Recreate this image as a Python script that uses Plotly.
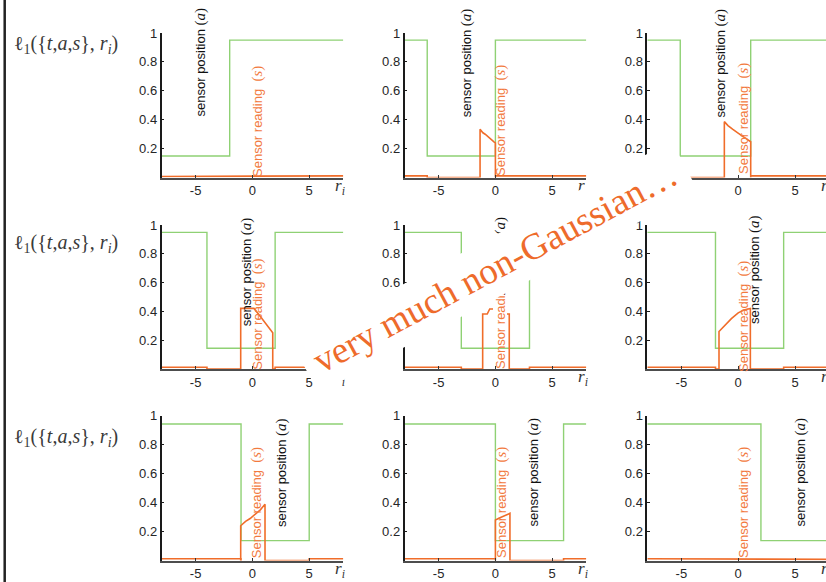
import plotly.graph_objects as go

W, H = 826, 582

# ---------------- data ----------------
r_ticks = [-5, 0, 5]
r_tick_text = ["-5", "0", "5"]
y_ticks = [0.2, 0.4, 0.6, 0.8, 1]
y_tick_text = ["0.2", "0.4", "0.6", "0.8", "1"]

# sensor position (a): low interval per panel (row-major order)
position_low_start = [-8, -6, -5.1, -4, -3, -2, -1, 0, 2]
position_low_end = [-2, 0, 1.1, 2, 3, 4, 5, 6, 8]
position_high = [0.951, 0.951, 0.951, 0.949, 0.949, 0.949, 0.943, 0.943, 0.943]
position_low = [0.149, 0.149, 0.149, 0.144, 0.144, 0.144, 0.137, 0.137, 0.137]

# sensor reading (s): floor levels and bump per panel
reading_floor = 0.012
reading_floor_in_low = [0.008, 0, 0, 0, 0, 0, 0, 0, 0.008]
reading_11_x, reading_11_y = [], []
reading_12_x = [-1.35, -1.1, -0.9, -0.7, -0.5, -0.3, -0.1, 0.0]
reading_12_y = [0.334, 0.31, 0.30, 0.285, 0.27, 0.258, 0.246, 0.24]
reading_13_x = [-1.22, -0.9, -0.5, -0.1, 0.3, 0.7, 1.1]
reading_13_y = [0.387, 0.36, 0.335, 0.31, 0.29, 0.27, 0.248]
reading_21_x = [-1.03, 0.14, 0.6, 1.2, 1.79]
reading_21_y = [0.421, 0.421, 0.375, 0.31, 0.252]
reading_22_x = [-1.12, -0.72, -0.5, 0.55, 0.8, 1.22]
reading_22_y = [0.382, 0.382, 0.417, 0.417, 0.382, 0.382]
reading_23_x = [-1.69, -1.2, -0.6, 0.0, 0.5, 1.07]
reading_23_y = [0.26, 0.30, 0.35, 0.39, 0.41, 0.42]
reading_31_x = [-1.03, -0.6, -0.2, 0.3, 0.7, 1.11]
reading_31_y = [0.24, 0.27, 0.29, 0.32, 0.35, 0.388]
reading_32_x = [0.0, 0.4, 0.9, 1.28]
reading_32_y = [0.28, 0.295, 0.31, 0.326]
reading_33_x, reading_33_y = [], []

reading_x = [reading_11_x, reading_12_x, reading_13_x, reading_21_x, reading_22_x,
             reading_23_x, reading_31_x, reading_32_x, reading_33_x]
reading_y = [reading_11_y, reading_12_y, reading_13_y, reading_21_y, reading_22_y,
             reading_23_y, reading_31_y, reading_32_y, reading_33_y]

# ---------------- layout geometry ----------------
col_left = [161.5, 404.5, 647.3]
panel_w = 181.8
row_top = [33, 225, 415.7]
row_bot = [177.6, 369, 560.5]
XMIN, XMAX = -8, 8
unit = panel_w / (XMAX - XMIN)


def px(x):
    return x / W


def py(y):
    return 1 - y / H


GREEN = "#8fd174"
ORANGE = "#f06d2a"
LABEL_ORANGE = "#f27a3e"
TICKFONT = dict(family="Liberation Sans, Arial, sans-serif", size=13, color="#262626")

fig = go.Figure()
layout = dict(
    width=W, height=H, margin=dict(l=0, r=0, t=0, b=0, pad=0, autoexpand=False),
    paper_bgcolor="white", plot_bgcolor="white", showlegend=False,
)

for i in range(9):
    r, c = divmod(i, 3)
    xa = "x" if i == 0 else f"x{i + 1}"
    ya = "y" if i == 0 else f"y{i + 1}"
    xkey = "xaxis" if i == 0 else f"xaxis{i + 1}"
    ykey = "yaxis" if i == 0 else f"yaxis{i + 1}"
    left = col_left[c]
    right = min(left + panel_w, W)
    xmax = XMIN + (right - left) / unit

    # sensor position step curve
    lo_s, lo_e = position_low_start[i], position_low_end[i]
    hi, lo = position_high[i], position_low[i]
    gx = [XMIN, lo_s, lo_e, XMAX]
    gy = [lo if lo_s <= XMIN else hi, lo, hi if lo_e < XMAX else lo, hi if lo_e < XMAX else lo]
    fig.add_trace(go.Scatter(x=gx, y=gy, mode="lines", line=dict(color=GREEN, width=1.4, shape="hv"),
                             xaxis=xa, yaxis=ya, hoverinfo="skip"))

    # sensor reading curve
    f_in = reading_floor_in_low[i]
    ox, oy = [], []
    if lo_s > XMIN:
        ox += [XMIN, lo_s]
        oy += [reading_floor, reading_floor]
    ox.append(lo_s)
    oy.append(f_in)
    bx, by = reading_x[i], reading_y[i]
    if bx:
        ox += [bx[0]] + bx + [bx[-1]]
        oy += [f_in] + by + [f_in]
    ox.append(lo_e)
    oy.append(f_in)
    if lo_e < XMAX:
        ox += [lo_e, XMAX]
        oy += [reading_floor, reading_floor]
    fig.add_trace(go.Scatter(x=ox, y=oy, mode="lines", line=dict(color=ORANGE, width=1.6),
                             xaxis=xa, yaxis=ya, hoverinfo="skip"))

    layout[xkey] = dict(
        domain=[px(left), px(right)], anchor=ya, range=[XMIN, xmax], automargin=False,
        showline=True, linecolor="#4d4d4d", linewidth=2, ticks="inside", ticklen=3,
        tickcolor="#333", tickmode="array", tickvals=r_ticks, ticktext=r_tick_text,
        tickfont=TICKFONT, showgrid=False, zeroline=False, fixedrange=True,
    )
    layout[ykey] = dict(
        domain=[py(row_bot[r]), py(row_top[r])], anchor=xa, range=[0, 1], automargin=False,
        showline=True, linecolor="#1a1a1a", linewidth=1.5, ticks="inside", ticklen=3,
        tickcolor="#1a1a1a", tickmode="array", tickvals=y_ticks, ticktext=y_tick_text,
        tickfont=TICKFONT, showgrid=False, zeroline=False, fixedrange=True,
    )

annotations = []

# row labels
for r in range(3):
    annotations.append(dict(
        text="\u2113<sub>1</sub>({<i>t</i>,<i>a</i>,<i>s</i>}, <i>r</i><sub><i>i</i></sub>)",
        x=px(12), y=py([45, 243, 437.7][r]), xref="paper", yref="paper",
        xanchor="left", yanchor="middle", showarrow=False,
        font=dict(family="Liberation Serif, Times New Roman, serif", size=20, color="#3a3a3a"),
    ))

# r_i axis labels
for i in range(9):
    r, c = divmod(i, 3)
    right_end = col_left[c] + panel_w
    annotations.append(dict(
        text="<i>r</i><sub><i>i</i></sub>",
        x=px(right_end - 3), y=py(row_bot[r] + 9), xref="paper", yref="paper",
        xanchor="center", yanchor="middle", showarrow=False,
        font=dict(family="Liberation Serif, Times New Roman, serif", size=17, color="#333"),
    ))

pos_label_xy = [(200, 62.5), (466.7, 62.5), (720, 63.5),
                (246.7, 271.5), (500, 271.5), (754, 270),
                (281, 473), (533, 472.5), (800, 472.5)]
read_label_xy = [(257, 122), (500, 121), (744, 119),
                 (256.7, 314), (500, 314), (743, 317),
                 (256.7, 502.5), (501, 503), (743, 503)]

SERIF = "font-family:'Liberation Serif',serif;font-size:15px"
for i in range(9):
    x, y = pos_label_xy[i]
    annotations.append(dict(
        text=f"sensor position <span style=\"{SERIF}\">(<i>a</i>)</span>",
        x=px(x), y=py(y), xref="paper", yref="paper", textangle=-90,
        xanchor="center", yanchor="middle", showarrow=False,
        font=dict(family="Liberation Sans, Arial, sans-serif", size=13, color="#111"),
    ))
    if i == 4:
        # hidden part of the black label behind the orange one
        annotations.append(dict(
            text=" ", x=px(500), y=py(311), xref="paper", yref="paper",
            width=14, height=32, borderpad=0, borderwidth=0, bgcolor="white",
            xanchor="center", yanchor="middle", showarrow=False,
        ))
    x, y = read_label_xy[i]
    annotations.append(dict(
        text=f"Sensor reading  <span style=\"{SERIF}\">(<i>s</i>)</span>",
        x=px(x), y=py(y), xref="paper", yref="paper", textangle=-90,
        xanchor="center", yanchor="middle", showarrow=False,
        font=dict(family="Liberation Sans, Arial, sans-serif", size=13, color=LABEL_ORANGE),
    ))

# the diagonal banner
annotations.append(dict(
    text="very much non-Gaussian\u2026",
    x=px(495), y=py(267), xref="paper", yref="paper",
    xanchor="center", yanchor="middle", showarrow=False, textangle=-28.1,
    width=430, height=56, borderpad=0, borderwidth=0, bgcolor="white",
    font=dict(family="Liberation Serif, Times New Roman, serif", size=37, color="#ee6b2b"),
))

layout["annotations"] = annotations
layout["shapes"] = [dict(type="line", xref="paper", yref="paper", x0=px(4.7), x1=px(4.7),
                         y0=0, y1=1, line=dict(color="#222", width=2.5))]

fig.update_layout(**layout)
fig.write_html(
    "out.html",
    config={"displayModeBar": False},
    post_script=(
        "document.documentElement.style.margin='0';document.body.style.margin='0';"
        "document.body.style.padding='0';document.body.style.overflow='hidden';"
        "document.documentElement.style.overflow='hidden';"
        "var gd=document.getElementById('{plot_id}');"
        "gd.style.position='fixed';gd.style.top='0px';gd.style.left='0px';"
    ),
)
